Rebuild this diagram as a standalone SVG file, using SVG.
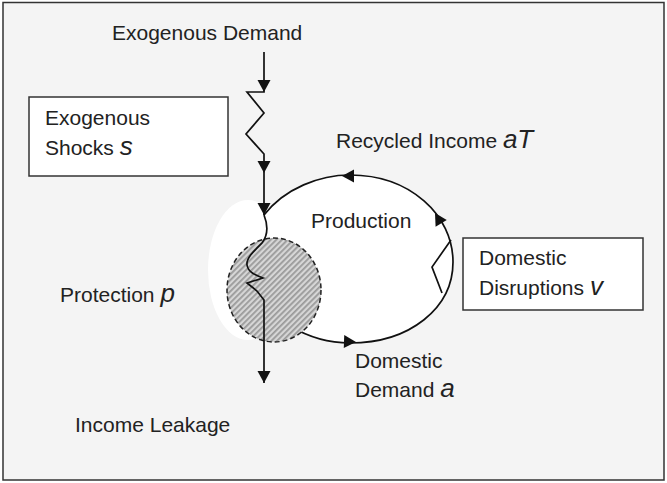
<svg xmlns="http://www.w3.org/2000/svg" xmlns:xlink="http://www.w3.org/1999/xlink" width="667" height="483" viewBox="0 0 667 483">
<style>
.t{font-family:"Liberation Sans",Arial,sans-serif;font-size:21px;fill:#222}
.v{font-family:"Liberation Sans",Arial,sans-serif;font-size:26px;font-style:italic;fill:#222}
.ln{fill:none;stroke:#111;stroke-width:1.7;stroke-linejoin:miter}
.box{fill:#fff;stroke:#333;stroke-width:1.5}
.ah{fill:#111}
</style>
<defs>
<path id="ah" d="M0,0 L-12,-6.5 L-12,6.5 Z"/>
<pattern id="hatch" width="4" height="4" patternUnits="userSpaceOnUse" patternTransform="rotate(45)">
<rect width="4" height="4" fill="#d6d6d6"/>
<rect width="1.8" height="4" fill="#9a9a9a"/>
</pattern>
</defs>
<rect width="667" height="483" fill="#fff"/>
<rect x="3" y="2.5" width="661" height="477.5" fill="#f4f4f4" stroke="#333" stroke-width="1.5"/>

<g id="production">
<ellipse cx="248" cy="270" rx="40" ry="70" fill="#fff"/>
<path d="M264,215 C285,188 320,175 350,175 C410,175 453,215 453,262 C453,308 410,343 350,343 C330,343 310,338 290,326 L264,300 L257,291 L247,283 L263,278 C255,275 248,272 247,265 C246,258 255,250 262,243 C268,235 268,225 264,215 Z" fill="#fff"/>
<path class="ln" d="M264,215 C285,188 320,175 350,175 C410,175 453,215 453,262 C453,308 410,343 350,343 C330,343 310,338 290,326"/>
<text class="t" x="311" y="228">Production</text>
</g>

<g id="protection">
<ellipse cx="274" cy="290" rx="47" ry="52" fill="url(#hatch)" stroke="#222" stroke-width="1.5" stroke-dasharray="5,3"/>
<text class="t" x="60" y="302">Protection <tspan class="v">p</tspan></text>
</g>

<g id="connectors">
<path class="ln" d="M264,52 L264,92 L247,92 L264,113 L246,134 L264,154 L264,215"/>
<path class="ln" d="M264,215 C268,225 268,235 262,243 C255,250 246,258 247,265 C248,272 255,275 263,278 L247,283 L257,291 L264,300 L264,383"/>
<path class="ln" d="M451,240 L432,267 L442,293"/>
<use href="#ah" class="ah" transform="translate(264,92) rotate(90)"/>
<use href="#ah" class="ah" transform="translate(264,173) rotate(90)"/>
<use href="#ah" class="ah" transform="translate(264,215) rotate(90)"/>
<use href="#ah" class="ah" transform="translate(264,383) rotate(90)"/>
<use href="#ah" class="ah" transform="translate(342,176) rotate(180)"/>
<use href="#ah" class="ah" transform="translate(435,213) rotate(-121)"/>
<use href="#ah" class="ah" transform="translate(356,342) rotate(2)"/>
</g>

<g id="exogenous-demand">
<text class="t" x="112" y="40">Exogenous Demand</text>
</g>

<g id="exogenous-shocks">
<rect class="box" x="29" y="97" width="199" height="79"/>
<text class="t" x="45" y="125">Exogenous</text>
<text class="t" x="45" y="155">Shocks <tspan class="v">s</tspan></text>
</g>

<g id="recycled-income">
<text class="t" x="336" y="148">Recycled Income <tspan class="v">aT</tspan></text>
</g>

<g id="domestic-disruptions">
<rect class="box" x="463" y="238" width="180" height="72"/>
<text class="t" x="479" y="265">Domestic</text>
<text class="t" x="479" y="295">Disruptions <tspan class="v">v</tspan></text>
</g>

<g id="domestic-demand">
<text class="t" x="355" y="368">Domestic</text>
<text class="t" x="355" y="397">Demand <tspan class="v">a</tspan></text>
</g>

<g id="income-leakage">
<text class="t" x="75" y="432">Income Leakage</text>
</g>
</svg>
